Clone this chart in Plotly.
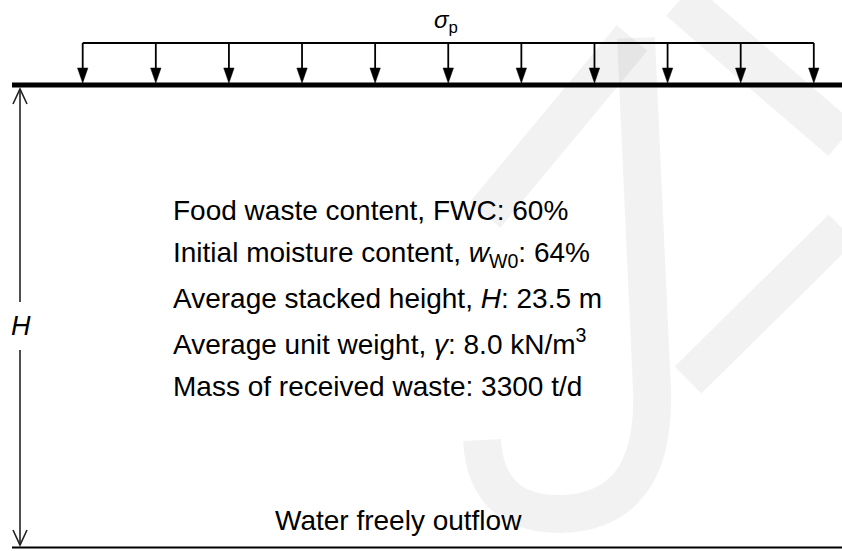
import numpy as np
import plotly.graph_objects as go

# ---- content ----
param_labels = [
    "Food waste content, FWC",
    "Initial moisture content, <i>w</i><sub>W0</sub>",
    "Average stacked height, <i>H</i>",
    "Average unit weight, <i>γ</i>",
    "Mass of received waste",
]
param_values = ["60%", "64%", "23.5 m", "8.0 kN/m<sup>3</sup>", "3300 t/d"]
load_label = "<i>σ</i><sub>p</sub>"
height_label = "<i>H</i>"
bottom_label = "Water freely outflow"
n_load_arrows = 11

W, Hh = 842, 551
FONT = "Liberation Sans, Arial, sans-serif"

fig = go.Figure()
shapes = []
wm = "rgba(0,0,0,0.05)"

# faint watermark strokes
shapes += [
    dict(type="line", x0=485, y0=215, x1=632, y1=38, line=dict(color=wm, width=40), layer="below"),
    dict(type="path", path="M 636,38 L 652,390 Q 656,512 560,514 Q 486,514 482,440",
         line=dict(color=wm, width=38), layer="below"),
    dict(type="path", path="M 680,0 Q 760,70 842,140", line=dict(color=wm, width=42), layer="below"),
    dict(type="line", x0=842, y0=228, x1=688, y1=380, line=dict(color=wm, width=38), layer="below"),
]

# ground surface (thick) and base line
shapes.append(dict(type="line", x0=12, y0=85, x1=842, y1=85, line=dict(color="black", width=5)))
shapes.append(dict(type="line", x0=12, y0=547.5, x1=842, y1=547.5, line=dict(color="black", width=2.2)))

# load bracket
xs = np.linspace(82.7, 813.8, n_load_arrows)
shapes.append(dict(type="line", x0=xs[0], y0=43, x1=xs[-1], y1=43, line=dict(color="black", width=1.8)))
for x in xs:
    shapes.append(dict(type="line", x0=x, y0=43, x1=x, y1=70, line=dict(color="black", width=1.8)))
    shapes.append(dict(type="path", path=f"M {x-5.2},68 L {x+5.2},68 L {x},83 Z",
                       fillcolor="black", line=dict(color="black", width=0.5)))

# height dimension
vx = 20
shapes.append(dict(type="line", x0=vx, y0=89, x1=vx, y1=302, line=dict(color="#222", width=1.6)))
shapes.append(dict(type="line", x0=vx, y0=350, x1=vx, y1=545, line=dict(color="#222", width=1.6)))
shapes.append(dict(type="path", path=f"M {vx-7},104 L {vx},89 L {vx+7},104",
                   line=dict(color="#222", width=1.6)))
shapes.append(dict(type="path", path=f"M {vx-7},530 L {vx},545 L {vx+7},530",
                   line=dict(color="#222", width=1.6)))

annotations = []
annotations.append(dict(x=446, y=21, text=load_label, showarrow=False, xanchor="center", yanchor="middle",
                        font=dict(family=FONT, size=24, color="black")))
annotations.append(dict(x=21, y=326, text=height_label, showarrow=False, xanchor="center", yanchor="middle",
                        font=dict(family=FONT, size=27, color="black")))
line_y = [210, 254, 298, 342, 386]
for lab, val, y in zip(param_labels, param_values, line_y):
    annotations.append(dict(x=171, y=y, text=f"{lab}: {val}", showarrow=False, xanchor="left",
                            yanchor="middle", font=dict(family=FONT, size=28, color="black")))
annotations.append(dict(x=398, y=520, text=bottom_label, showarrow=False, xanchor="center", yanchor="middle",
                        font=dict(family=FONT, size=28, color="black")))
for a in annotations:
    a["xref"] = "x"
    a["yref"] = "y"

fig.update_layout(
    width=W, height=Hh, margin=dict(l=0, r=0, t=0, b=0),
    paper_bgcolor="white", plot_bgcolor="white",
    xaxis=dict(range=[0, W], visible=False, fixedrange=True),
    yaxis=dict(range=[Hh, 0], visible=False, fixedrange=True),
    shapes=shapes, annotations=annotations, showlegend=False,
)
fig.write_html(
    "out.html",
    config={"displayModeBar": False},
    post_script="document.body.style.margin='0';document.body.style.overflow='hidden';",
)
